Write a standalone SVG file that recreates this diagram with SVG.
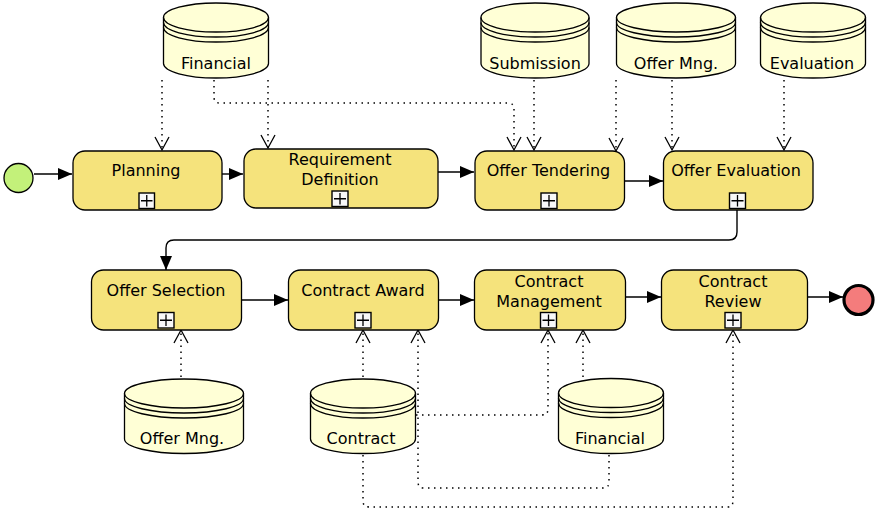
<svg xmlns="http://www.w3.org/2000/svg" width="885" height="515" viewBox="0 0 885 515">
<style>
.task{fill:#f5e37c;stroke:#000;stroke-width:1.3}
.store{fill:#ffffd6;stroke:#000;stroke-width:1.3}
.line{fill:none;stroke:#000;stroke-width:1.3}
.mk{fill:#f8f8f8;stroke:#000;stroke-width:1.4}
.seq{fill:none;stroke:#000;stroke-width:1.4;marker-end:url(#seqArrow)}
.assoc{fill:none;stroke:#000;stroke-width:1.5;stroke-dasharray:1.5 4.5;marker-end:url(#openArrow)}
text{font-family:"DejaVu Sans",Verdana,sans-serif;font-size:16px;fill:#000;text-anchor:middle}
</style>
<defs>
<marker id="seqArrow" markerWidth="14" markerHeight="12" refX="14" refY="6" orient="auto" markerUnits="userSpaceOnUse" overflow="visible">
<path d="M0,0 L14,6 L0,12 Z" fill="#000"/>
</marker>
<marker id="openArrow" markerWidth="13" markerHeight="14" refX="13" refY="7" orient="auto" markerUnits="userSpaceOnUse" overflow="visible">
<path d="M0,0 L13,7 L0,14" fill="none" stroke="#000" stroke-width="1.3"/>
</marker>
</defs>

<g id="connectors">
<path class="seq" d="M34,174 L72,174"/>
<path class="seq" d="M222,174 L243,174"/>
<path class="seq" d="M438,172 L474,172"/>
<path class="seq" d="M625,181 L663,181"/>
<path class="seq" d="M737,210 L737,232 Q737,240 729,240 L174,240 Q166,240 166,248 L166,270"/>
<path class="seq" d="M242,300 L288,300"/>
<path class="seq" d="M438,300 L474,300"/>
<path class="seq" d="M626,297 L661,297"/>
<path class="seq" d="M808,297 L843,297"/>

<path class="assoc" d="M162,80 L162,150"/>
<path class="assoc" d="M268,80 L268,148"/>
<path class="assoc" d="M214,80 L214,97 Q214,103 220,103 L508,103 Q514,103 514,109 L514,150"/>
<path class="assoc" d="M534,80 L534,150"/>
<path class="assoc" d="M616,80 L616,151"/>
<path class="assoc" d="M672,80 L672,150"/>
<path class="assoc" d="M784,80 L784,150"/>

<path class="assoc" d="M181,377 L181,330"/>
<path class="assoc" d="M363,377 L363,330"/>
<path class="assoc" d="M416,415 L542,415 Q548,415 548,409 L548,330"/>
<path class="assoc" d="M583,377 L583,330"/>
<path class="assoc" d="M609,455 L609,482 Q609,488 603,488 L424,488 Q418,488 418,482 L418,330"/>
<path class="assoc" d="M363,455 L363,501 Q363,507 369,507 L727,507 Q733,507 733,501 L733,330"/>
</g>

<g id="start">
<circle cx="18.5" cy="178" r="14.5" fill="#c3f17a" stroke="#000" stroke-width="1.3"/>
</g>
<g id="end">
<circle cx="858.5" cy="300" r="14.5" fill="#f47c7c" stroke="#000" stroke-width="3.2"/>
</g>

<g id="planning">
<rect class="task" x="73" y="151" width="149" height="59" rx="12"/>
<text x="146" y="176">Planning</text>
<rect class="mk" x="139" y="193" width="15.5" height="15.5"/>
<path class="line" d="M141,200.75 H152.5 M146.75,195 V206.5"/>
</g>
<g id="requirement">
<rect class="task" x="244" y="149" width="194" height="59" rx="12"/>
<text x="340" y="165">Requirement</text>
<text x="340" y="185">Definition</text>
<rect class="mk" x="332" y="191" width="16" height="15.5"/>
<path class="line" d="M334,198.75 H346 M340,193 V204.5"/>
</g>
<g id="tendering">
<rect class="task" x="475" y="151" width="149.5" height="59" rx="12"/>
<text x="548.5" y="176">Offer Tendering</text>
<rect class="mk" x="541" y="193" width="16" height="15.5"/>
<path class="line" d="M543,200.75 H555 M549,195 V206.5"/>
</g>
<g id="evaluation">
<rect class="task" x="663.5" y="151" width="149.5" height="59" rx="12"/>
<text x="736" y="176">Offer Evaluation</text>
<rect class="mk" x="729.5" y="193" width="16" height="15.5"/>
<path class="line" d="M731.5,200.75 H743.5 M737.5,195 V206.5"/>
</g>
<g id="selection">
<rect class="task" x="91.5" y="270" width="150" height="60" rx="12"/>
<text x="166" y="296">Offer Selection</text>
<rect class="mk" x="158" y="312.5" width="16" height="15.5"/>
<path class="line" d="M160,320.25 H172 M166,314.5 V326"/>
</g>
<g id="award">
<rect class="task" x="288.5" y="270" width="150" height="60" rx="12"/>
<text x="363" y="296">Contract Award</text>
<rect class="mk" x="355" y="312.5" width="16" height="15.5"/>
<path class="line" d="M357,320.25 H369 M363,314.5 V326"/>
</g>
<g id="management">
<rect class="task" x="474.5" y="270" width="151" height="60" rx="12"/>
<text x="549" y="287">Contract</text>
<text x="549" y="307">Management</text>
<rect class="mk" x="540.5" y="312.5" width="16" height="15.5"/>
<path class="line" d="M542.5,320.25 H554.5 M548.5,314.5 V326"/>
</g>
<g id="review">
<rect class="task" x="661.5" y="270" width="146" height="60" rx="12"/>
<text x="733" y="287">Contract</text>
<text x="733" y="307">Review</text>
<rect class="mk" x="725" y="312.5" width="16" height="15.5"/>
<path class="line" d="M727,320.25 H739 M733,314.5 V326"/>
</g>

<g id="store-financial-top">
<path class="store" d="M163.5,17.5 V63.5 A52.5,14.5 0 0 0 268.5,63.5 V17.5 A52.5,14.5 0 0 0 163.5,17.5 Z"/>
<path class="line" d="M163.5,17.5 A52.5,14.5 0 0 0 268.5,17.5 M163.5,22.5 A52.5,14.5 0 0 0 268.5,22.5 M163.5,27.5 A52.5,14.5 0 0 0 268.5,27.5"/>
<text x="216" y="69">Financial</text>
</g>
<g id="store-submission">
<path class="store" d="M481,17.5 V63.5 A54,14.5 0 0 0 589,63.5 V17.5 A54,14.5 0 0 0 481,17.5 Z"/>
<path class="line" d="M481,17.5 A54,14.5 0 0 0 589,17.5 M481,22.5 A54,14.5 0 0 0 589,22.5 M481,27.5 A54,14.5 0 0 0 589,27.5"/>
<text x="535" y="69">Submission</text>
</g>
<g id="store-offermng-top">
<path class="store" d="M616.5,17.5 V63.5 A59.5,14.5 0 0 0 735.5,63.5 V17.5 A59.5,14.5 0 0 0 616.5,17.5 Z"/>
<path class="line" d="M616.5,17.5 A59.5,14.5 0 0 0 735.5,17.5 M616.5,22.5 A59.5,14.5 0 0 0 735.5,22.5 M616.5,27.5 A59.5,14.5 0 0 0 735.5,27.5"/>
<text x="676" y="69">Offer Mng.</text>
</g>
<g id="store-evaluation">
<path class="store" d="M760.5,17.5 V63.5 A52.5,14.5 0 0 0 865.5,63.5 V17.5 A52.5,14.5 0 0 0 760.5,17.5 Z"/>
<path class="line" d="M760.5,17.5 A52.5,14.5 0 0 0 865.5,17.5 M760.5,22.5 A52.5,14.5 0 0 0 865.5,22.5 M760.5,27.5 A52.5,14.5 0 0 0 865.5,27.5"/>
<text x="812" y="69">Evaluation</text>
</g>
<g id="store-offermng-bottom">
<path class="store" d="M124.5,393.5 V439 A59.5,14.5 0 0 0 243.5,439 V393.5 A59.5,14.5 0 0 0 124.5,393.5 Z"/>
<path class="line" d="M124.5,393.5 A59.5,14.5 0 0 0 243.5,393.5 M124.5,398.5 A59.5,14.5 0 0 0 243.5,398.5 M124.5,403.5 A59.5,14.5 0 0 0 243.5,403.5"/>
<text x="182" y="444">Offer Mng.</text>
</g>
<g id="store-contract">
<path class="store" d="M310.5,393.5 V439 A52.5,14.5 0 0 0 415.5,439 V393.5 A52.5,14.5 0 0 0 310.5,393.5 Z"/>
<path class="line" d="M310.5,393.5 A52.5,14.5 0 0 0 415.5,393.5 M310.5,398.5 A52.5,14.5 0 0 0 415.5,398.5 M310.5,403.5 A52.5,14.5 0 0 0 415.5,403.5"/>
<text x="361" y="444">Contract</text>
</g>
<g id="store-financial-bottom">
<path class="store" d="M558.5,393 V439 A52.5,14.5 0 0 0 663.5,439 V393 A52.5,14.5 0 0 0 558.5,393 Z"/>
<path class="line" d="M558.5,393 A52.5,14.5 0 0 0 663.5,393 M558.5,398 A52.5,14.5 0 0 0 663.5,398 M558.5,403 A52.5,14.5 0 0 0 663.5,403"/>
<text x="610" y="444">Financial</text>
</g>
</svg>
